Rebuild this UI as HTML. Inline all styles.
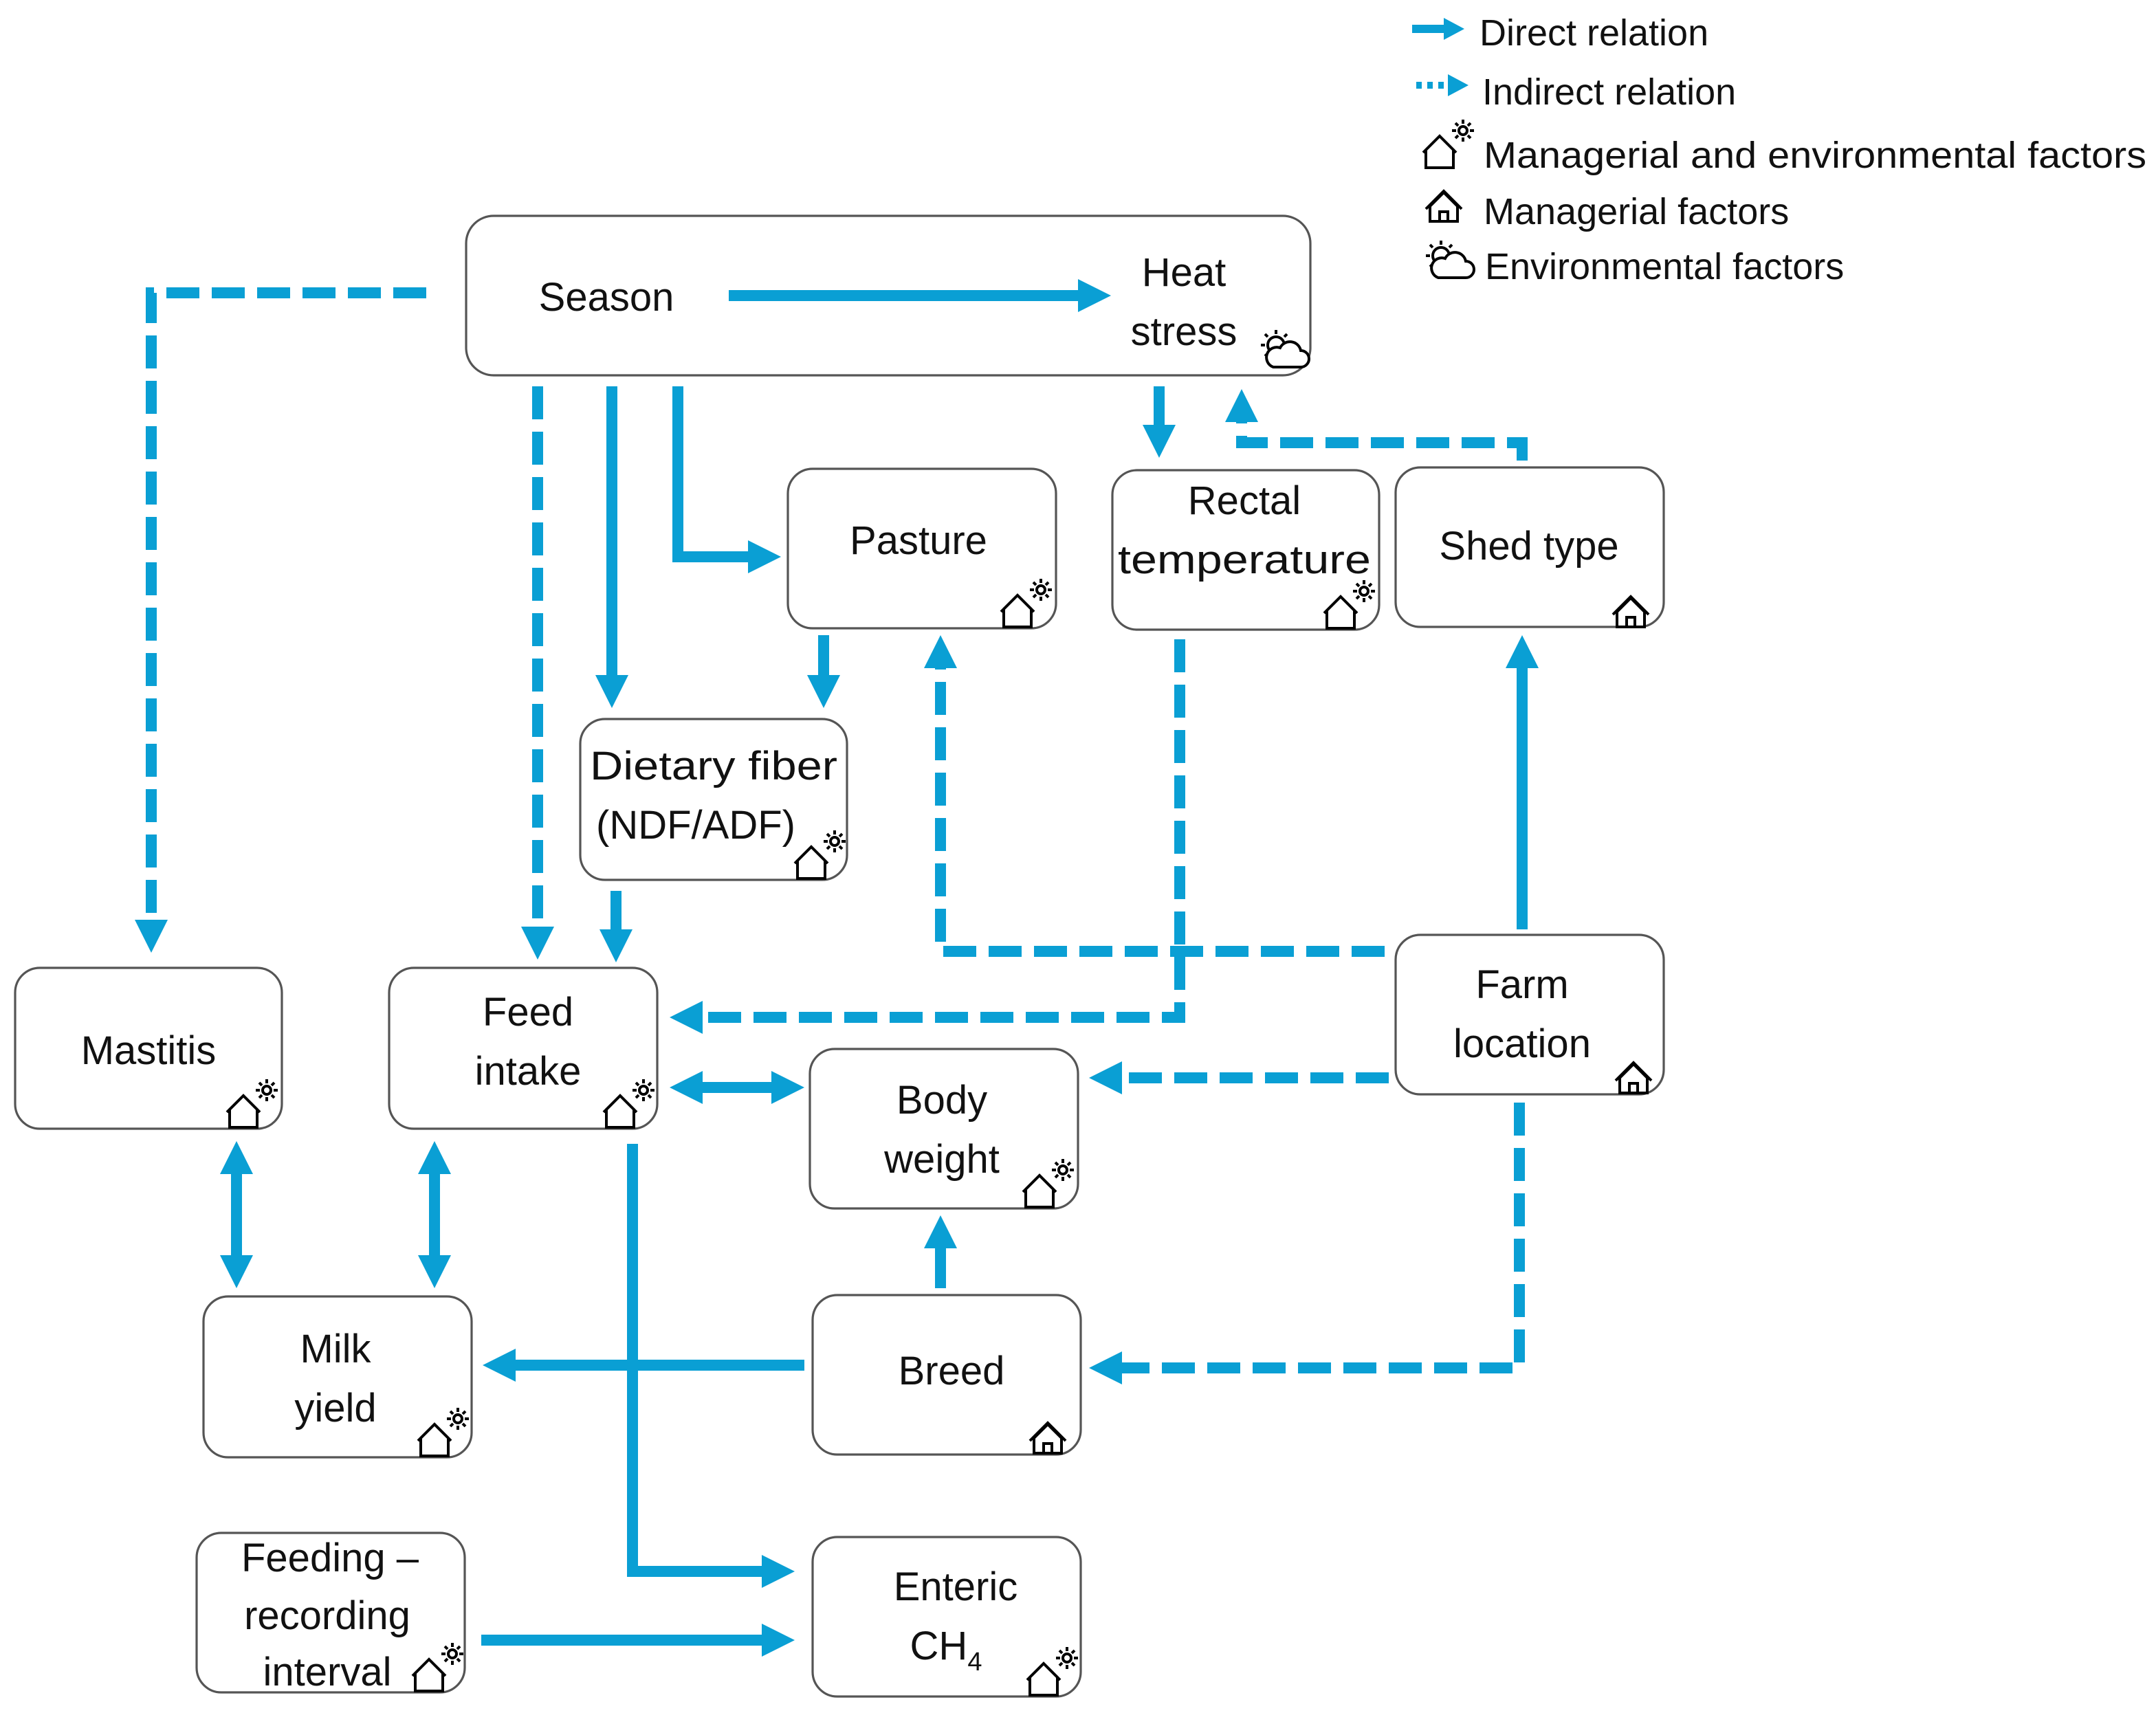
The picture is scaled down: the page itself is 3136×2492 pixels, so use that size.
<!DOCTYPE html>
<html><head><meta charset="utf-8"><style>
html,body{margin:0;padding:0;background:#fff}
svg{display:block}
text{font-family:"Liberation Sans",sans-serif;font-size:29px;fill:#111}
</style></head><body>
<svg width="3136" height="2492" viewBox="0 0 1568 1246" xmlns="http://www.w3.org/2000/svg">
<defs>
<g id="hs" fill="none" stroke="#000" stroke-width="2">
 <path d="M-11,0 V-13 L-1,-23 L9,-13 V0 Z M-13,-11 L-1,-23 L11,-11"/>
 <circle cx="16" cy="-27" r="3"/>
 <path d="M16,-35 v3 M16,-22 v3 M8,-27 h3 M21,-27 h3 M10.5,-32.5 l2,2 M19.5,-23.5 l2,2 M21.5,-32.5 l-2,2 M12.5,-23.5 l-2,2"/>
</g>
<g id="h" fill="none" stroke="#000" stroke-width="2">
 <path d="M-10,0 V-11 L0,-21 L10,-11 V0 Z M-13,-9 L0,-22 L13,-9 M-3,0 V-7 H3 V0"/>
</g>
<g id="cl" fill="none" stroke="#000" stroke-width="2">
 <circle cx="-6" cy="-16" r="6"/>
 <path d="M-6,-27 v3 M-17,-16 h3 M-14,-24 l2,2 M2,-24 l-2,2 M-14,-8 l2,-2"/>
 <path d="M-8,0 H12 A6,6 0 0 0 12,-12 A8,8 0 0 0 -3,-14 A6,6 0 0 0 -8,0 Z" fill="#fff"/>
</g>
</defs>

<!-- boxes -->
<g fill="#fff" stroke="#555" stroke-width="1.6">
<rect x="339" y="157" width="614" height="116" rx="20"/>
<rect x="573" y="341" width="195" height="116" rx="18"/>
<rect x="809" y="342" width="194" height="116" rx="18"/>
<rect x="1015" y="340" width="195" height="116" rx="18"/>
<rect x="422" y="523" width="194" height="117" rx="18"/>
<rect x="11" y="704" width="194" height="117" rx="18"/>
<rect x="283" y="704" width="195" height="117" rx="18"/>
<rect x="589" y="763" width="195" height="116" rx="18"/>
<rect x="1015" y="680" width="195" height="116" rx="18"/>
<rect x="148" y="943" width="195" height="117" rx="18"/>
<rect x="591" y="942" width="195" height="116" rx="18"/>
<rect x="143" y="1115" width="195" height="116" rx="18"/>
<rect x="591" y="1118" width="195" height="116" rx="18"/>
</g>

<!-- connectors -->
<g fill="none" stroke="#0a9fd4" stroke-width="8">
<path d="M530,215 H784"/>
<path d="M445,281 V491"/>
<path d="M493,281 V405 H544"/>
<path d="M843,281 V309"/>
<path d="M599,462 V491"/>
<path d="M448,648 V676"/>
<path d="M1107,676 V486"/>
<path d="M511,791 H561"/>
<path d="M172,854 V913"/>
<path d="M316,854 V913"/>
<path d="M684,937 V908"/>
<path d="M585,993 H375"/>
<path d="M460,832 V1143 H554"/>
<path d="M350,1193 H554"/>
</g>
<g fill="none" stroke="#0a9fd4" stroke-width="8" stroke-dasharray="24 9">
<path d="M310,213 H110 V669"/>
<path d="M391,281 V674"/>
<path d="M1107,335 V322 H903 V307"/>
<path d="M858,465 V740 H511"/>
<path d="M1007,692 H684 V486"/>
<path d="M1010,784 H816"/>
<path d="M1105,802 V995 H816"/>
</g>
<g fill="#0a9fd4">
<polygon points="808,215 784,203 784,227"/>
<polygon points="110,693 98,669 122,669"/>
<polygon points="391,698 379,674 403,674"/>
<polygon points="445,515 433,491 457,491"/>
<polygon points="568,405 544,393 544,417"/>
<polygon points="843,333 831,309 855,309"/>
<polygon points="903,283 891,307 915,307"/>
<polygon points="599,515 587,491 611,491"/>
<polygon points="448,700 436,676 460,676"/>
<polygon points="487,740 511,728 511,752"/>
<polygon points="684,462 672,486 696,486"/>
<polygon points="1107,462 1095,486 1119,486"/>
<polygon points="792,784 816,772 816,796"/>
<polygon points="792,995 816,983 816,1007"/>
<polygon points="487,791 511,779 511,803"/>
<polygon points="585,791 561,779 561,803"/>
<polygon points="172,830 160,854 184,854"/>
<polygon points="172,937 160,913 184,913"/>
<polygon points="316,830 304,854 328,854"/>
<polygon points="316,937 304,913 328,913"/>
<polygon points="684,884 672,908 696,908"/>
<polygon points="351,993 375,981 375,1005"/>
<polygon points="578,1143 554,1131 554,1155"/>
<polygon points="578,1193 554,1181 554,1205"/>
</g>

<!-- labels -->
<g text-anchor="middle">
<text x="441" y="226">Season</text>
<text x="861" y="208">Heat</text><text x="861" y="251">stress</text>
<text x="668" y="403">Pasture</text>
<text x="905" y="374">Rectal</text><text x="905" y="417" textLength="184" lengthAdjust="spacingAndGlyphs">temperature</text>
<text x="1112" y="407">Shed type</text>
<text x="519" y="567" textLength="180" lengthAdjust="spacingAndGlyphs">Dietary fiber</text><text x="506" y="610">(NDF/ADF)</text>
<text x="108" y="774">Mastitis</text>
<text x="384" y="746">Feed</text><text x="384" y="789">intake</text>
<text x="685" y="810">Body</text><text x="685" y="853">weight</text>
<text x="1107" y="726">Farm</text><text x="1107" y="769">location</text>
<text x="244" y="991">Milk</text><text x="244" y="1034">yield</text>
<text x="692" y="1007">Breed</text>
<text x="240" y="1143">Feeding –</text><text x="238" y="1185">recording</text><text x="238" y="1226">interval</text>
<text x="695" y="1164">Enteric</text><text x="688" y="1207">CH<tspan font-size="19" dy="8">4</tspan></text>
</g>

<!-- icons -->
<use href="#hs" x="741" y="456"/>
<use href="#hs" x="976" y="457"/>
<use href="#h" x="1186" y="456"/>
<use href="#hs" x="591" y="639"/>
<use href="#hs" x="178" y="820"/>
<use href="#hs" x="452" y="820"/>
<use href="#hs" x="757" y="878"/>
<use href="#h" x="1188" y="795"/>
<use href="#hs" x="317" y="1059"/>
<use href="#h" x="762" y="1057"/>
<use href="#hs" x="313" y="1230"/>
<use href="#hs" x="760" y="1233"/>
<use href="#cl" x="934" y="267"/>

<!-- legend -->
<path d="M1027,21 H1050" stroke="#0a9fd4" stroke-width="6"/>
<polygon points="1065,21 1050,13 1050,29" fill="#0a9fd4"/>
<path d="M1030,62 H1053" stroke="#0a9fd4" stroke-width="5" stroke-dasharray="4 4"/>
<polygon points="1068,62 1053,54 1053,70" fill="#0a9fd4"/>
<g font-size="27">
<text x="1076" y="33" style="font-size:27px">Direct relation</text>
<text x="1078" y="76" style="font-size:27px">Indirect relation</text>
<text x="1079" y="122" style="font-size:27px" textLength="482" lengthAdjust="spacingAndGlyphs">Managerial and environmental factors</text>
<text x="1079" y="163" style="font-size:27px">Managerial factors</text>
<text x="1080" y="203" style="font-size:27px">Environmental factors</text>
</g>
<use href="#hs" x="1048" y="122"/>
<use href="#h" x="1050" y="161"/>
<use href="#cl" x="1054" y="202"/>
</svg>
</body></html>
